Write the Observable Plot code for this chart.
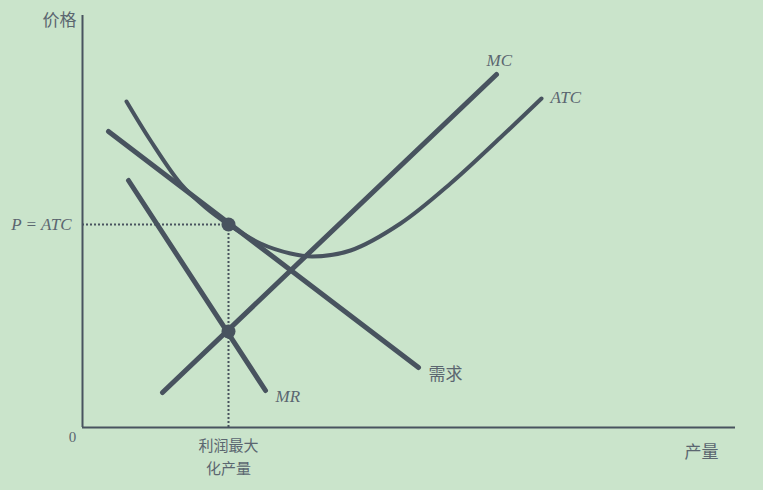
<!DOCTYPE html>
<html><head><meta charset="utf-8">
<script src="https://cdn.jsdelivr.net/npm/d3@7"></script>
<script src="https://cdn.jsdelivr.net/npm/@observablehq/plot@0.6"></script>
<style>
html,body{margin:0;padding:0;background:#cae4cb;}
</style></head>
<body><div id="chart"></div>
<script>
// Quantity (x) and price (y) in chart units
const demandQ = [26, 336];
const demandP = [296, 60];
const mrQ = [46, 183];
const mrP = [247, 37];
const mcQ = [80, 414];
const mcP = [35, 353];
const atcQ = [44, 68, 98, 123, 146, 178, 208, 230, 268, 318, 368, 418, 459];
const atcP = [326, 287, 244, 220, 203, 184, 174, 171, 177, 204, 244, 290, 329];
const optQ = 146;
const optP = [203, 96];   // P = ATC point, MR = MC point
const xMax = 653, yMax = 412;

const curveLabels = [
  {q: 404, p: 367, text: "MC"},
  {q: 468, p: 330, text: "ATC"},
  {q: 193, p: 31, text: "MR"}
];
const startLabels = [{q: 346, p: 53, text: "需求"}];
const optLabelLines = [
  {q: 146, p: -19, text: "利润最大"},
  {q: 146, p: -42, text: "化产量"}
];
const middleLabels = [{q: 619, p: -25, text: "产量"}];
const endLabels = [{q: -6, p: 407, text: "价格"}];

const toPts = (qs, ps) => qs.map((q, i) => ({q, p: ps[i]}));
const ink = "#48535f";
const txt = "#5b6670";
const serif = "'Liberation Serif', 'DejaVu Serif', serif";
const cjk = "'Noto Sans CJK SC', sans-serif";

const chart = Plot.plot({
  width: 763, height: 490,
  marginLeft: 82, marginRight: 28, marginTop: 15, marginBottom: 63,
  x: {domain: [0, xMax], axis: null},
  y: {domain: [0, yMax], axis: null},
  style: {background: "#cae4cb"},
  marks: [
    Plot.ruleX([0], {y1: 0, y2: yMax, stroke: ink, strokeWidth: 2}),
    Plot.ruleY([0], {x1: 0, x2: xMax, stroke: ink, strokeWidth: 2}),
    Plot.ruleY([optP[0]], {x1: 0, x2: optQ, stroke: ink, strokeWidth: 2, strokeDasharray: "2,2"}),
    Plot.ruleX([optQ], {y1: 0, y2: optP[0], stroke: ink, strokeWidth: 2, strokeDasharray: "2,2"}),
    Plot.line(toPts(demandQ, demandP), {x: "q", y: "p", stroke: ink, strokeWidth: 5}),
    Plot.line(toPts(mrQ, mrP), {x: "q", y: "p", stroke: ink, strokeWidth: 5}),
    Plot.line(toPts(mcQ, mcP), {x: "q", y: "p", stroke: ink, strokeWidth: 5}),
    Plot.line(toPts(atcQ, atcP), {x: "q", y: "p", stroke: ink, strokeWidth: 4, curve: "catmull-rom"}),
    Plot.dot(optP.map(p => ({q: optQ, p})), {x: "q", y: "p", r: 7, fill: ink}),
    Plot.text(curveLabels, {x: "q", y: "p", text: "text", fill: txt, fontSize: 17, fontStyle: "italic", fontFamily: serif, textAnchor: "start"}),
    Plot.text([{q: -11, p: 203, text: "P = ATC"}], {x: "q", y: "p", text: "text", fill: txt, fontSize: 17, fontStyle: "italic", fontFamily: serif, textAnchor: "end"}),
    Plot.text([{q: -10, p: -10, text: "0"}], {x: "q", y: "p", text: "text", fill: txt, fontSize: 15, fontFamily: serif}),
    Plot.text(startLabels, {x: "q", y: "p", text: "text", textAnchor: "start", fill: txt, fontSize: 17, fontFamily: cjk}),
    Plot.text(optLabelLines, {x: "q", y: "p", text: "text", textAnchor: "middle", fill: txt, fontSize: 15, fontFamily: cjk}),
    Plot.text(middleLabels, {x: "q", y: "p", text: "text", textAnchor: "middle", fill: txt, fontSize: 17, fontFamily: cjk}),
    Plot.text(endLabels, {x: "q", y: "p", text: "text", textAnchor: "end", fill: txt, fontSize: 17, fontFamily: cjk})
  ]
});
document.getElementById("chart").appendChild(chart);
</script></body></html>
